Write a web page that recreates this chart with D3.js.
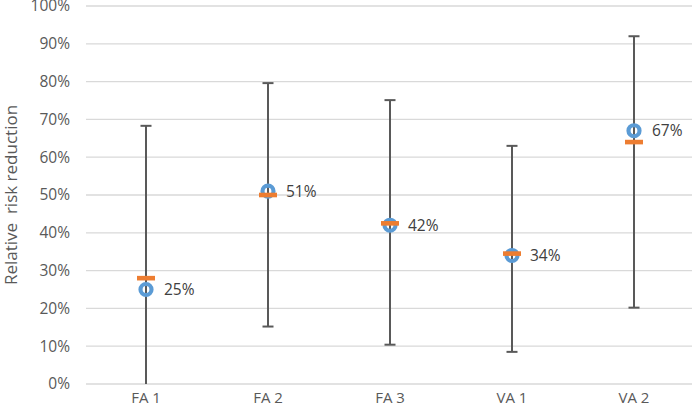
<!DOCTYPE html>
<html><head><meta charset="utf-8">
<script src="https://cdn.jsdelivr.net/npm/d3@7/dist/d3.min.js"></script>
<style>body{margin:0;background:#fff;} text{font-family:"Open Sans","Noto Sans",sans-serif;}</style>
</head><body>
<svg id="c" width="696" height="415"></svg>
<script>
const categories = ["FA 1","FA 2","FA 3","VA 1","VA 2"];
const pointValues = [25, 51, 42, 34, 67];
const dashValues = [28, 50, 42.5, 34.5, 64];
const lowValues = [0, 15.2, 10.4, 8.5, 20.2];
const highValues = [68.3, 79.6, 75.1, 63, 92];
const yTicks = [0,10,20,30,40,50,60,70,80,90,100];

const svg = d3.select("#c");
const x = d3.scaleBand().domain(categories).range([85, 695]);
const y = d3.scaleLinear().domain([0,100]).range([384, 6]);
const cx = c => x(c) + x.bandwidth()/2;

// gridlines
svg.append("g").selectAll("line").data(yTicks).join("line")
  .attr("x1", 86).attr("x2", 692)
  .attr("y1", d=>y(d)).attr("y2", d=>y(d))
  .attr("stroke", "#D9D9D9").attr("stroke-width", 1.3);

// y axis labels
const yAxis = d3.axisLeft(y).tickValues(yTicks).tickFormat(d=>d+"%").tickSize(0).tickPadding(0);
const ya = svg.append("g").attr("transform","translate(70,0)").call(yAxis);
ya.select(".domain").remove();
ya.selectAll("text").attr("fill","#595959").style("font-size","15.5px").style("font-family","'Open Sans','Noto Sans',sans-serif");

// x axis labels
const xAxis = d3.axisBottom(x).tickSize(0).tickPadding(0);
const xa = svg.append("g").attr("transform","translate(0,392)").call(xAxis);
xa.select(".domain").remove();
xa.selectAll("text").attr("fill","#595959").style("font-size","15px").style("font-family","'Open Sans','Noto Sans',sans-serif");

// y title
svg.append("text").attr("transform","translate(17,195) rotate(-90)")
  .attr("text-anchor","middle").attr("fill","#595959").style("font-size","17px")
  .attr("xml:space","preserve").text("Relative  risk reduction");

const data = categories.map((c,i)=>({c, p:pointValues[i], d:dashValues[i], lo:lowValues[i], hi:highValues[i]}));

// error bars
const eg = svg.append("g").attr("stroke","#595959").attr("stroke-width",2);
eg.selectAll("line.v").data(data).join("line").attr("class","v")
  .attr("x1", d=>cx(d.c)).attr("x2", d=>cx(d.c))
  .attr("y1", d=>y(d.lo)).attr("y2", d=>y(d.hi));
eg.selectAll("line.t").data(data).join("line").attr("class","t")
  .attr("x1", d=>cx(d.c)-5.5).attr("x2", d=>cx(d.c)+5.5)
  .attr("y1", d=>y(d.hi)).attr("y2", d=>y(d.hi));
eg.selectAll("line.b").data(data.filter(d=>d.lo>0)).join("line").attr("class","b")
  .attr("x1", d=>cx(d.c)-5.5).attr("x2", d=>cx(d.c)+5.5)
  .attr("y1", d=>y(d.lo)).attr("y2", d=>y(d.lo));

// points
svg.append("g").selectAll("circle").data(data).join("circle")
  .attr("cx", d=>cx(d.c)).attr("cy", d=>y(d.p)).attr("r", 5.5)
  .attr("fill","none").attr("stroke","#5B9BD5").attr("stroke-width",4.2);

// orange dashes
svg.append("g").selectAll("rect").data(data).join("rect")
  .attr("x", d=>cx(d.c)-9).attr("y", d=>y(d.d)-2.3).attr("width",18).attr("height",4.6)
  .attr("fill","#ED7D31");

// labels
svg.append("g").selectAll("text").data(data).join("text")
  .attr("x", d=>cx(d.c)+18).attr("y", d=>y(d.p)).attr("dy","0.36em")
  .attr("fill","#404040").style("font-size","15.5px").text(d=>d.p+"%");
</script>
</body></html>
